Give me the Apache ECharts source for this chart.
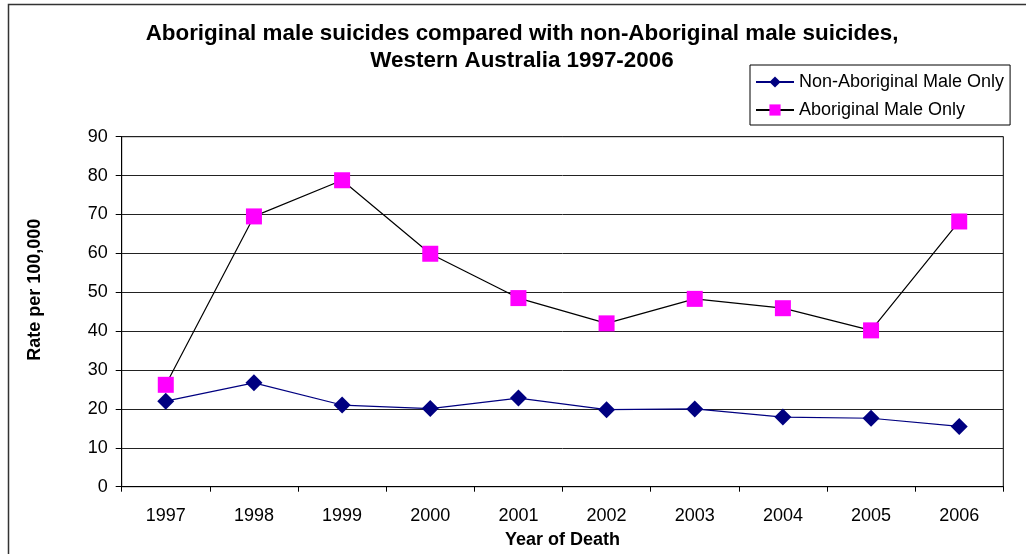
<!DOCTYPE html>
<html>
<head>
<meta charset="utf-8">
<script src="https://cdn.jsdelivr.net/npm/echarts@6/dist/echarts.min.js"></script>
<style>
html,body{margin:0;padding:0;background:#fff;}
#chart{width:1026px;height:554px;}
</style>
</head>
<body>
<div id="chart"></div>
<script>
const years = ['1997','1998','1999','2000','2001','2002','2003','2004','2005','2006'];
const nonAboriginal = [22.0, 26.7, 21.0, 20.1, 22.8, 19.8, 20.0, 17.9, 17.6, 15.5];
const aboriginal = [26.2, 69.5, 78.8, 59.9, 48.5, 42.0, 48.3, 45.9, 40.2, 68.2];
const seriesNames = ['Non-Aboriginal Male Only', 'Aboriginal Male Only'];
const titleText = 'Aboriginal male suicides compared with non-Aboriginal male suicides,\nWestern Australia 1997-2006';
const yName = 'Rate per 100,000';
const xName = 'Year of Death';

const FONT = '"Liberation Sans", Arial, sans-serif';
const chart = echarts.init(document.getElementById('chart'), null, {renderer: 'canvas'});
chart.setOption({
  animation: false,
  backgroundColor: '#fff',
  graphic: [{
    type: 'rect', z: -1, silent: true,
    shape: {x: 8.5, y: 4.5, width: 1100, height: 600},
    style: {fill: '#fff', stroke: '#333', lineWidth: 1.5}
  }],
  title: {
    text: titleText,
    left: 522, top: 20, textAlign: 'center', padding: 0,
    textStyle: {fontFamily: FONT, fontSize: 22.4, fontWeight: 'bold', color: '#000', lineHeight: 27}
  },
  legend: {
    orient: 'vertical',
    left: 750, top: 65,
    padding: [8, 6, 6, 5],
    itemWidth: 38, itemHeight: 14, itemGap: 10, itemTextGap: 4,
    borderColor: '#000', borderWidth: 1, backgroundColor: '#fff',
    textStyle: {fontFamily: FONT, fontSize: 18, color: '#000'},
    data: seriesNames
  },
  grid: {
    left: 121.7, top: 136.7, right: 22.7, bottom: 67.3,
    show: true, borderColor: '#000', borderWidth: 1, backgroundColor: 'transparent'
  },
  xAxis: {
    type: 'category', data: years, boundaryGap: true,
    name: xName, nameLocation: 'middle', nameGap: 44,
    nameTextStyle: {fontFamily: FONT, fontSize: 18, fontWeight: 'bold', color: '#000'},
    axisLine: {lineStyle: {color: '#000', width: 1}},
    axisTick: {show: true, alignWithLabel: false, length: 5, inside: false, lineStyle: {color: '#000'}},
    axisLabel: {fontFamily: FONT, fontSize: 18, color: '#000', margin: 20},
    splitLine: {show: false}
  },
  yAxis: {
    type: 'value', min: 0, max: 90, interval: 10,
    name: yName, nameLocation: 'middle', nameGap: 78, nameRotate: 90,
    nameTextStyle: {fontFamily: FONT, fontSize: 18, fontWeight: 'bold', color: '#000', padding: [0, 0, 0, 44]},
    axisLine: {show: true, lineStyle: {color: '#000', width: 1}},
    axisTick: {show: true, length: 6, inside: false, lineStyle: {color: '#000'}},
    axisLabel: {fontFamily: FONT, fontSize: 18, color: '#000', margin: 14},
    splitLine: {show: true, lineStyle: {color: '#222', width: 1}}
  },
  series: [
    {
      name: seriesNames[0], type: 'line', data: nonAboriginal,
      symbol: 'diamond', symbolSize: 17,
      itemStyle: {color: '#000080'},
      lineStyle: {color: '#000080', width: 1.2},
      z: 3
    },
    {
      name: seriesNames[1], type: 'line', data: aboriginal,
      symbol: 'rect', symbolSize: 16,
      itemStyle: {color: '#FF00FF'},
      lineStyle: {color: '#000', width: 1.2},
      z: 3
    }
  ]
});
</script>
</body>
</html>
